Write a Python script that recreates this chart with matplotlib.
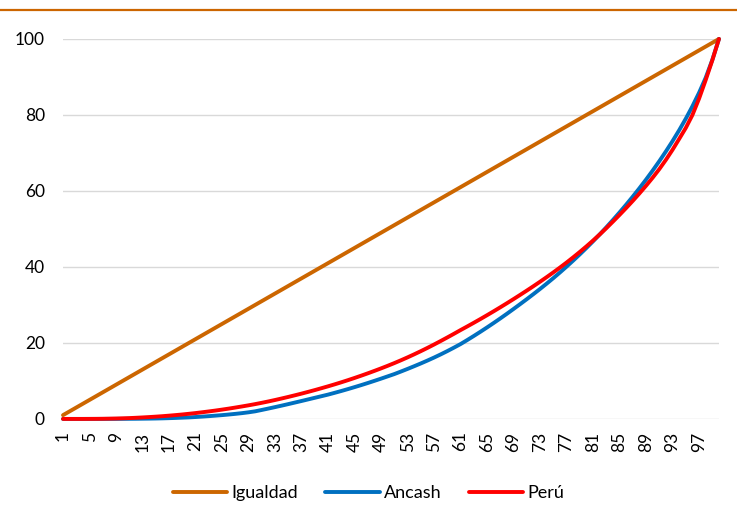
import matplotlib
matplotlib.use("Agg")
import matplotlib.pyplot as plt
from matplotlib.lines import Line2D

plt.rcParams['font.family'] = ['Lato', 'DejaVu Sans']

# percentiles de poblacion (1..100)
percentil = list(range(1, 101))
igualdad = list(range(1, 101))

ancash = [
    0, 0, 0, 0, 0, 0, 0, 0.01, 0.01, 0.02,
    0.03, 0.04, 0.06, 0.08, 0.11, 0.15, 0.2, 0.26, 0.33, 0.4,
    0.5, 0.61, 0.73, 0.86, 1.0, 1.16, 1.33, 1.52, 1.74, 2.0,
    2.36, 2.73, 3.11, 3.5, 3.9, 4.31, 4.72, 5.14, 5.56, 5.98,
    6.4, 6.87, 7.35, 7.85, 8.37, 8.9, 9.45, 10.02, 10.6, 11.2,
    11.8, 12.47, 13.16, 13.87, 14.6, 15.36, 16.15, 16.98, 17.85, 18.76,
    19.7, 20.75, 21.83, 22.94, 24.08, 25.25, 26.45, 27.68, 28.94, 30.22,
    31.52, 32.85, 34.21, 35.61, 37.05, 38.54, 40.08, 41.67, 43.31, 45.0,
    46.75, 48.56, 50.43, 52.36, 54.35, 56.4, 58.52, 60.72, 63.0, 65.37,
    67.84, 70.42, 73.13, 75.99, 79.03, 82.3, 85.85, 89.8, 94.5, 100,
]

peru = [
    0, 0, 0, 0, 0.01, 0.02, 0.04, 0.07, 0.11, 0.16,
    0.22, 0.3, 0.39, 0.49, 0.6, 0.72, 0.86, 1.01, 1.17, 1.35,
    1.54, 1.75, 1.97, 2.2, 2.45, 2.71, 2.99, 3.28, 3.58, 3.9,
    4.24, 4.6, 4.98, 5.38, 5.79, 6.22, 6.66, 7.12, 7.59, 8.08,
    8.58, 9.1, 9.64, 10.2, 10.78, 11.38, 12.0, 12.64, 13.3, 13.98,
    14.69, 15.43, 16.2, 17.0, 17.83, 18.69, 19.58, 20.5, 21.44, 22.4,
    23.38, 24.33, 25.3, 26.29, 27.3, 28.33, 29.38, 30.45, 31.54, 32.65,
    33.78, 34.93, 36.11, 37.32, 38.56, 39.84, 41.16, 42.53, 43.95, 45.42,
    46.95, 48.54, 50.2, 51.93, 53.7, 55.52, 57.4, 59.35, 61.38, 63.5,
    65.75, 68.2, 70.85, 73.7, 76.6, 80.0, 84.3, 89.2, 94.4, 100,
]

series = ['Igualdad', 'Ancash', 'Perú']
colors = ['#CC6600', '#0070C0', '#FF0000']

fig = plt.figure(figsize=(7.37, 5.23), dpi=100)
ax = fig.add_axes([0.0855, 0.199, 0.89, 0.7265])

for name, vals, c in zip(series, [igualdad, ancash, peru], colors):
    ax.plot(percentil, vals, color=c, lw=2.8, label=name, clip_on=False,
            solid_capstyle='round')

ax.set_xlim(1, 100)
ax.set_ylim(0, 100)
ax.set_yticks(range(0, 101, 20))
ax.set_xticks(percentil[::4])
ax.set_xticklabels([str(p) for p in percentil[::4]], rotation=90, fontsize=12.5)
ax.tick_params(axis='y', labelsize=12.5, length=0, pad=13)
ax.tick_params(axis='x', length=0, pad=9)
ax.grid(axis='y', color='#D9D9D9', lw=1)
ax.set_axisbelow(True)
for s in ax.spines.values():
    s.set_visible(False)

# linea naranja superior
fig.add_artist(Line2D([0, 1], [0.98, 0.98], color='#CC6600', lw=1.6))

ax.legend(loc='center', bbox_to_anchor=(0.466, -0.195), ncol=3, frameon=False,
          fontsize=13, handlelength=3.0, columnspacing=1.5, handletextpad=0.25)

fig.savefig('out.png', dpi=100)
